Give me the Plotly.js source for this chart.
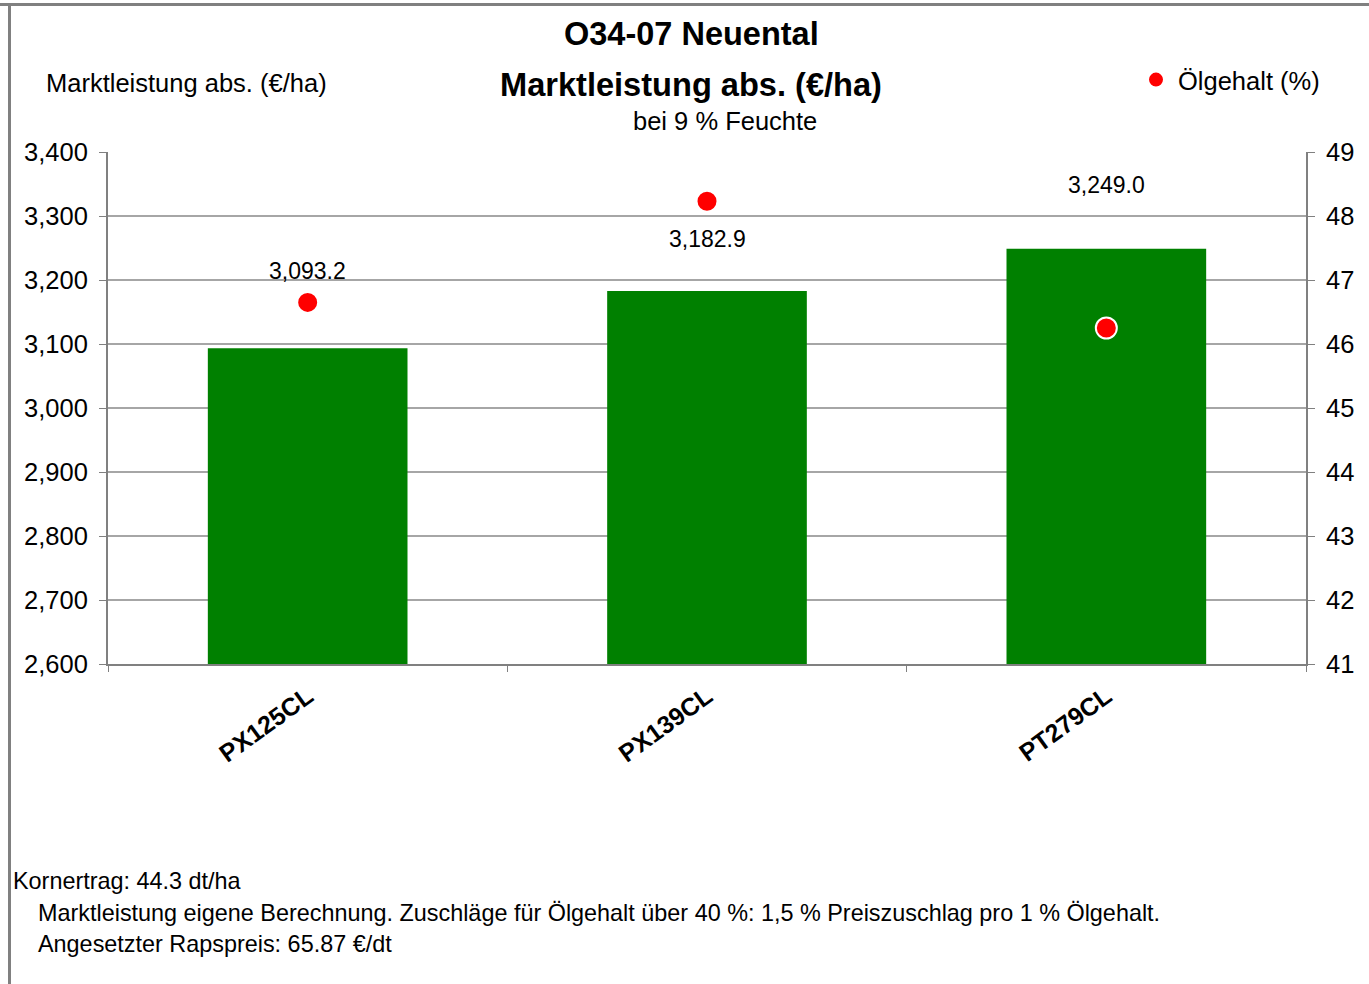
<!DOCTYPE html>
<html>
<head>
<meta charset="utf-8">
<script src="https://cdn.plot.ly/plotly-3.0.1.min.js"></script>
<style>
  body { margin: 0; background: #fff; }
  #frame-top { position: absolute; left: 0; top: 3px; width: 1369px; height: 3px; background: #808080; }
  #frame-left { position: absolute; left: 8px; top: 3px; width: 3px; height: 981px; background: #808080; }
  #chart { position: absolute; left: 0; top: 0; width: 1369px; height: 984px; }
</style>
</head>
<body>
<div id="chart"></div>
<div id="frame-top"></div>
<div id="frame-left"></div>
<script>
// Sorten und Werte
const sorten = ['PX125CL', 'PX139CL', 'PT279CL'];
const marktleistung = [3093.2, 3182.9, 3249.0];
const oelgehalt = [46.65, 48.23, 46.25];
const labelShift = [77, 52, 64];

const FONT = '"Liberation Sans", Arial, sans-serif';

function renderChart() {
    const bars = {
        x: sorten,
        y: marktleistung,
        type: 'bar',
        name: 'Marktleistung abs. (€/ha)',
        marker: { color: '#008000' },
        showlegend: false,
        hoverinfo: 'x+y'
    };

    const oil = {
        x: sorten,
        y: oelgehalt,
        yaxis: 'y2',
        type: 'scatter',
        mode: 'markers',
        name: 'Ölgehalt (%)',
        marker: { color: '#ff0000', size: 21, line: { color: '#ffffff', width: 2 } }
    };

    // Datenbeschriftungen über den Balken
    const valueLabels = sorten.map(function(s, i) {
        return {
            x: s, y: marktleistung[i], xref: 'x', yref: 'y',
            text: marktleistung[i].toLocaleString('en-US', { minimumFractionDigits: 1, maximumFractionDigits: 1 }),
            showarrow: false, yshift: labelShift[i],
            font: { family: FONT, size: 23, color: '#000' }
        };
    });

    // px = linker Rand bzw. Mitte in Pixeln, py = Mitte in Pixeln
    const textNotes = [
        { text: '<b>O34-07 Neuental</b>', px: 691, size: 32.5, anchor: 'center', py: 34 },
        { text: '<b>Marktleistung abs. (€/ha)</b>', px: 691, size: 32.6, anchor: 'center', py: 84 },
        { text: 'bei 9 % Feuchte', px: 725, size: 25.5, anchor: 'center', py: 121 },
        { text: 'Marktleistung abs. (€/ha)', px: 44, size: 25.5, anchor: 'left', py: 83 },
        { text: 'Kornertrag: 44.3 dt/ha', px: 11, size: 23.4, anchor: 'left', py: 881 },
        { text: 'Marktleistung eigene Berechnung. Zuschläge für Ölgehalt über 40 %: 1,5 % Preiszuschlag pro 1 % Ölgehalt.', px: 36, size: 23.4, anchor: 'left', py: 913 },
        { text: 'Angesetzter Rapspreis: 65.87 €/dt', px: 36, size: 23.4, anchor: 'left', py: 944 }
    ].map(function(n) {
        return {
            text: n.text, xref: 'paper', yref: 'paper',
            x: (n.px - 108) / 1198, y: (664 - n.py) / 512,
            xanchor: n.anchor, yanchor: 'middle',
            showarrow: false,
            font: { family: FONT, size: n.size, color: '#000' }
        };
    });

    const layout = {
        width: 1369,
        height: 984,
        margin: { l: 108, r: 63, t: 152, b: 320 },
        paper_bgcolor: '#ffffff',
        plot_bgcolor: '#ffffff',
        font: { family: FONT, size: 24, color: '#000' },
        bargap: 0.5,
        showlegend: true,
        legend: {
            x: (1134 - 108) / 1198, y: (664 - 80) / 512,
            xanchor: 'left', yanchor: 'middle',
            itemwidth: 34,
            font: { family: FONT, size: 25.5, color: '#000' },
            bgcolor: 'rgba(0,0,0,0)'
        },
        xaxis: {
            type: 'category',
            tickangle: -36,
            tickfont: { family: FONT, size: 25, color: '#000', weight: 'bold' },
            ticklabelstandoff: 6,
            showline: true, linecolor: '#808080', linewidth: 2,
            ticks: 'outside', tickson: 'boundaries', ticklen: 6, tickcolor: '#808080',
            showgrid: false, zeroline: false
        },
        yaxis: {
            range: [2600, 3400], dtick: 100, tickformat: ',d',
            showline: true, linecolor: '#808080', linewidth: 2,
            ticks: 'outside', ticklen: 7, tickcolor: '#808080',
            ticklabelstandoff: 6,
            gridcolor: '#a6a6a6', gridwidth: 2, zeroline: false,
            tickfont: { family: FONT, size: 25.5, color: '#000' }
        },
        yaxis2: {
            range: [41, 49], dtick: 1, overlaying: 'y', side: 'right',
            showline: true, linecolor: '#808080', linewidth: 2,
            ticks: 'outside', ticklen: 7, tickcolor: '#808080',
            ticklabelstandoff: 6,
            showgrid: false, zeroline: false,
            tickfont: { family: FONT, size: 25.5, color: '#000' }
        },
        annotations: valueLabels.concat(textNotes)
    };

    Plotly.newPlot('chart', [bars, oil], layout, { displayModeBar: false, staticPlot: true });
}

renderChart();
</script>
</body>
</html>
